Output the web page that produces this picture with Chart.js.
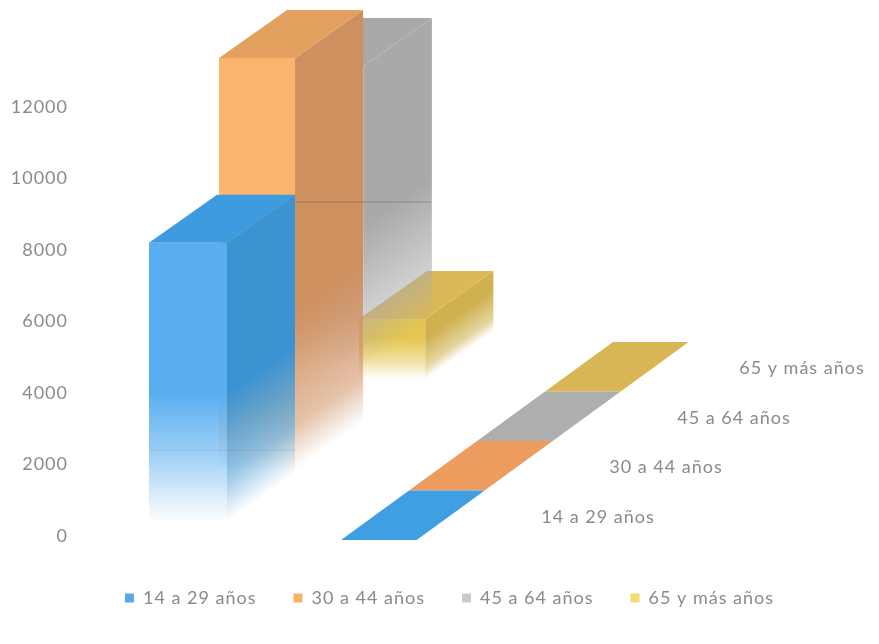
<!DOCTYPE html>
<html>
<head>
<meta charset="utf-8">
<style>
  html, body { margin: 0; padding: 0; background: #fff; }
  canvas { display: block; filter: blur(0.5px); }
</style>
<script src="https://cdn.jsdelivr.net/npm/chart.js@4/dist/chart.umd.js"></script>
</head>
<body>
<canvas id="chart" width="879" height="644"></canvas>
<script>
const categories = ['1', '2'];
const seriesNames = ['14 a 29 años', '30 a 44 años', '45 a 64 años', '65 y más años'];
const young = [8200, 0];
const adult = [12030, 0];
const middle = [10460, 0];
const senior = [2040, 0];
const seriesValues = [young, adult, middle, senior];

// [front, side, top] per series
const legendColors = ['#5aa9e6', '#f6b26b', '#cacaca', '#f4dc70'];
const faceColors = [
  ['#58aef0', '#3b93d2', '#3f9be0'],
  ['#f9b46e', '#cf9060', '#e3a05f'],
  ['#b4b4b4', '#a9a9a9', '#a9a9a9'],
  ['#e6c650', '#cfb14f', '#dcb957']
];
const tileColors = ['#3f9fe2', '#eb9c5e', '#aeaeae', '#d9b655'];
const fadeFrom = [4000, 5000, 6000, 1500];
const fadeMid = [2150, 2200, 3500, 900];
const fadeTo = [400, 500, 2000, 350];
const barScale = [1, 0.975, 0.96, 0.85];

const textColor = '#8a8a8a';
const fontFamily = "Lato, 'Open Sans', sans-serif";
const BAR_W = 78, STEP_Y = 48, SIDE_X = 68, STEP_X = 70, TILE_X = 68, TILE_Y = 49.5;

function rgba(hex, a) {
  const n = parseInt(hex.slice(1), 16);
  return 'rgba(' + (n >> 16) + ',' + ((n >> 8) & 255) + ',' + (n & 255) + ',' + a + ')';
}

function fadeGradient(ctx, yScale, shift, hex, i, midK) {
  const top = yScale.getPixelForValue(fadeFrom[i]) + shift;
  const mid = yScale.getPixelForValue(fadeMid[i] * midK) + shift;
  const end = yScale.getPixelForValue(fadeTo[i]) + shift;
  const g = ctx.createLinearGradient(0, top, 0, end);
  g.addColorStop(0, rgba(hex, 1));
  g.addColorStop((mid - top) / (end - top), rgba(hex, 0.55));
  g.addColorStop(1, rgba(hex, 0));
  return g;
}

function poly(ctx, pts, fill) {
  ctx.beginPath();
  pts.forEach((p, k) => (k ? ctx.lineTo(p[0], p[1]) : ctx.moveTo(p[0], p[1])));
  ctx.closePath();
  ctx.fillStyle = fill;
  ctx.fill();
}

function drawBar(chart, i, el) {
  const ctx = chart.ctx;
  const y = chart.scales.y;
  const shift = -STEP_Y * i;
  const w = BAR_W * barScale[i];
  const left = el.x - BAR_W / 2 + STEP_X * i;
  const right = left + w;
  const top = el.y + shift;
  const base = el.base + shift;
  const slope = -STEP_Y / SIDE_X;

  // front
  ctx.fillStyle = fadeGradient(ctx, y, shift, faceColors[i][0], i, 1);
  ctx.fillRect(left, top, w, base - top);

  // side, sheared so the fade follows the floor line
  ctx.save();
  ctx.transform(1, slope, 0, 1, 0, -slope * right);
  ctx.fillStyle = fadeGradient(ctx, y, shift, faceColors[i][1], i, i === 2 ? 1 : 0.8);
  ctx.fillRect(right, top, SIDE_X, base - top);
  ctx.restore();

  // top
  poly(ctx, [[left, top], [right, top], [right + SIDE_X, top - STEP_Y], [left + SIDE_X, top - STEP_Y]], faceColors[i][2]);
}

function drawTile(chart, i, el) {
  const w = BAR_W * 0.97;
  const left = el.x - BAR_W / 2 + TILE_X * i;
  const y0 = el.base + 4 - TILE_Y * i;
  poly(chart.ctx, [
    [left, y0], [left + w, y0],
    [left + w + TILE_X, y0 - TILE_Y], [left + TILE_X, y0 - TILE_Y]
  ], tileColors[i]);
}

// faint gridlines that show through the bars in the original
function drawGridMarks(chart) {
  const ctx = chart.ctx;
  const y = chart.scales.y;
  const el = chart.getDatasetMeta(0).data[0];
  const left = el.x - BAR_W / 2;
  ctx.save();
  ctx.lineWidth = 1;
  [[2400, 0.1], [4000, 0.06]].forEach(([v, a]) => {
    ctx.strokeStyle = 'rgba(70,70,110,' + a + ')';
    ctx.beginPath();
    ctx.moveTo(left, y.getPixelForValue(v));
    ctx.lineTo(left + BAR_W + SIDE_X, y.getPixelForValue(v));
    ctx.stroke();
  });
  const yy = y.getPixelForValue(8000) - STEP_Y;
  ctx.strokeStyle = 'rgba(70,70,70,0.35)';
  ctx.beginPath();
  ctx.moveTo(left + BAR_W + SIDE_X, yy);
  ctx.lineTo(left + BAR_W + SIDE_X + 2 * SIDE_X, yy);
  ctx.stroke();
  ctx.restore();
}

const bars3d = {
  id: 'bars3d',
  // room on the right for the depth axis, legend still spans the full width
  beforeInit(chart) {
    Chart.layouts.addBox(chart, {
      position: 'right',
      weight: 0,
      fullSize: false,
      options: {},
      isHorizontal() { return false; },
      update(w, h) { this.width = 423; this.height = h; return { left: 0, right: 0, top: 0, bottom: 0 }; },
      draw() {}
    });
  },
  beforeLayout(chart) { chart.ctx.letterSpacing = '1px'; },
  beforeDraw(chart) { chart.ctx.letterSpacing = '1px'; },
  beforeDatasetsDraw(chart) {
    for (let i = seriesValues.length - 1; i >= 0; i--) {
      drawTile(chart, i, chart.getDatasetMeta(i).data[1]);
    }
    for (let i = seriesValues.length - 1; i >= 0; i--) {
      drawBar(chart, i, chart.getDatasetMeta(i).data[0]);
    }
    drawGridMarks(chart);
    const ctx = chart.ctx;
    const tile = chart.getDatasetMeta(0).data[1];
    ctx.font = '18px ' + fontFamily;
    ctx.fillStyle = textColor;
    ctx.textAlign = 'center';
    ctx.textBaseline = 'middle';
    seriesNames.forEach((name, i) => {
      ctx.fillText(name, tile.x + 218 + TILE_X * i, tile.base - 19 - TILE_Y * i);
    });
    return false;
  }
};

new Chart(document.getElementById('chart'), {
  type: 'bar',
  data: {
    labels: categories,
    datasets: seriesNames.map((name, i) => ({
      label: name,
      data: seriesValues[i],
      backgroundColor: legendColors[i],
      grouped: false,
      barThickness: BAR_W
    }))
  },
  options: {
    responsive: false,
    animation: false,
    // negative right padding only moves the centred legend over to the right
    layout: { padding: { top: 107, left: 0, right: -20, bottom: 27 } },
    scales: {
      x: {
        afterFit(scale) { scale.height = 16; },
        grid: { display: false },
        border: { display: false },
        ticks: { color: textColor, padding: 12, font: { family: fontFamily, size: 18 } }
      },
      y: {
        min: 0,
        max: 12000,
        afterFit(scale) { scale.width = 92; },
        grid: { display: false },
        border: { display: false },
        ticks: {
          color: textColor,
          stepSize: 2000,
          padding: 16,
          format: { useGrouping: false },
          font: { family: fontFamily, size: 18 }
        }
      }
    },
    plugins: {
      title: { display: false },
      tooltip: { enabled: false },
      legend: {
        position: 'bottom',
        labels: {
          color: textColor,
          boxWidth: 9,
          boxHeight: 9,
          padding: 37,
          font: { family: fontFamily, size: 18 }
        }
      }
    }
  },
  plugins: [bars3d]
});
</script>
</body>
</html>
